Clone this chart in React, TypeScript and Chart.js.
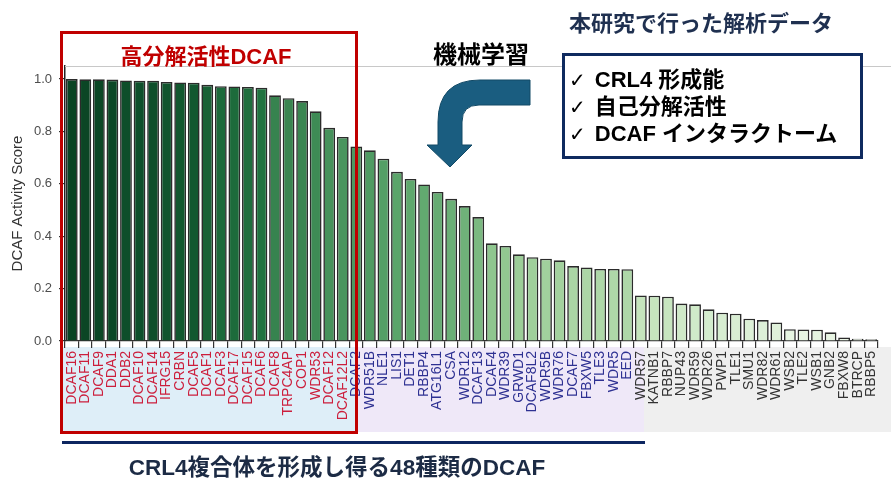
import React, { useEffect, useRef } from "react";
import { Chart, registerables } from "chart.js";

Chart.register(...registerables);

const categories = [
  "DCAF16", "DCAF11", "DCAF9", "DDA1", "DDB2", "DCAF10", "DCAF14", "IFRG15", "CRBN", "DCAF5",
  "DCAF1", "DCAF3", "DCAF17", "DCAF15", "DCAF6", "DCAF8", "TRPC4AP", "COP1", "WDR53", "DCAF12",
  "DCAF12L2",
  "DCAF2", "WDR51B", "NLE1", "LIS1", "DET1", "RBBP4", "ATG16L1", "CSA", "WDR12", "DCAF13",
  "DCAF4", "WDR39", "GRWD1", "DCAF8L2", "WDR5B", "WDR76", "DCAF7", "FBXW5", "TLE3", "WDR5",
  "EED",
  "WDR57", "KATNB1", "RBBP7", "NUP43", "WDR59", "WDR26", "PWP1", "TLE1", "SMU1", "WDR82",
  "WDR61", "WSB2", "TLE2", "WSB1", "GNB2", "FBXW8", "BTRCP", "RBBP5",
];

const scores = [
  1.0, 0.999, 0.999, 0.998, 0.995, 0.994, 0.994, 0.989, 0.987, 0.986,
  0.978, 0.973, 0.972, 0.97, 0.967, 0.938, 0.927, 0.916, 0.877, 0.814,
  0.779,
  0.743, 0.728, 0.696, 0.646, 0.619, 0.598, 0.569, 0.543, 0.515, 0.473,
  0.373, 0.363, 0.331, 0.32, 0.314, 0.308, 0.286, 0.281, 0.275, 0.275,
  0.274,
  0.174, 0.173, 0.169, 0.143, 0.14, 0.121, 0.108, 0.104, 0.085, 0.08,
  0.071, 0.045, 0.044, 0.043, 0.033, 0.013, 0.009, 0.007,
];

// group of each label: 0 = high self-degradation (red), 1 = blue, 2 = gray
const labelGroups = [
  0, 0, 0, 0, 0, 0, 0, 0, 0, 0, 0, 0, 0, 0, 0, 0, 0, 0, 0, 0, 0,
  1, 1, 1, 1, 1, 1, 1, 1, 1, 1, 1, 1, 1, 1, 1, 1, 1, 1, 1, 1, 1,
  2, 2, 2, 2, 2, 2, 2, 2, 2, 2, 2, 2, 2, 2, 2, 2, 2, 2,
];

const yTickValues = [0, 0.2, 0.4, 0.6, 0.8, 1.0];

const groupColors = ["#cc1e3c", "#2e3192", "#333333"];

const colorStops: [number, string][] = [
  [0.0, "#eef8ea"],
  [0.045, "#e6f4e1"],
  [0.09, "#dbefd5"],
  [0.145, "#cfe9c8"],
  [0.175, "#c5e4bd"],
  [0.275, "#aed7a8"],
  [0.32, "#9fcf9b"],
  [0.37, "#90c68f"],
  [0.47, "#7cba82"],
  [0.52, "#6db178"],
  [0.65, "#5aa56a"],
  [0.75, "#4d9861"],
  [0.88, "#3e8b55"],
  [0.94, "#37834f"],
  [0.965, "#237642"],
  [0.98, "#165f34"],
  [0.995, "#0d4e2a"],
  [1.0, "#0a4424"],
];

function hexToRgb(h: string) {
  const n = parseInt(h.slice(1), 16);
  return [(n >> 16) & 255, (n >> 8) & 255, n & 255];
}

function colorFor(v: number) {
  for (let i = 0; i < colorStops.length - 1; i++) {
    const [a, ca] = colorStops[i];
    const [b, cb] = colorStops[i + 1];
    if (v >= a && v <= b) {
      const t = b === a ? 0 : (v - a) / (b - a);
      const A = hexToRgb(ca);
      const B = hexToRgb(cb);
      const c = A.map((x, k) => Math.round(x + (B[k] - x) * t));
      return `rgb(${c[0]},${c[1]},${c[2]})`;
    }
  }
  return colorStops[colorStops.length - 1][1];
}

const W = 891;
const H = 483;
const LATIN = '"Liberation Sans", Arial, sans-serif';
const JP = '"Liberation Sans", "Noto Sans CJK JP", sans-serif';

const topLinePlugin = {
  id: "topLine",
  beforeDatasetsDraw(chart: any) {
    const { ctx, chartArea } = chart;
    ctx.save();
    ctx.strokeStyle = "#c8c8c8";
    ctx.lineWidth = 1;
    ctx.beginPath();
    ctx.moveTo(chartArea.left, chartArea.top + 0.5);
    ctx.lineTo(chart.width, chartArea.top + 0.5);
    ctx.stroke();
    ctx.restore();
  },
};

export default function App() {
  const ref = useRef<HTMLCanvasElement>(null);

  useEffect(() => {
    const chart = new Chart(ref.current as HTMLCanvasElement, {
      type: "bar",
      data: {
        labels: categories,
        datasets: [
          {
            data: scores,
            backgroundColor: scores.map(colorFor),
            borderColor: "#2b2b2b",
            borderWidth: 1.6,
            barPercentage: 0.87,
            categoryPercentage: 1,
          },
        ],
      },
      options: {
        animation: false,
        responsive: false,
        layout: { padding: { top: 66, left: 0, right: 0, bottom: 0 } },
        plugins: {
          legend: { display: false },
          tooltip: { enabled: false },
        },
        scales: {
          x: {
            grid: { drawOnChartArea: false, tickLength: 7, color: "#333", lineWidth: 1.2 },
            border: { display: true, color: "#333", width: 1.2 },
            ticks: {
              autoSkip: false,
              maxRotation: 90,
              minRotation: 90,
              padding: 3,
              font: { family: LATIN, size: 14 },
              color: (ctx: any) => groupColors[labelGroups[ctx.index] ?? 2],
            },
            afterFit: (s: any) => {
              s.height = H - 341;
            },
          },
          y: {
            min: 0,
            max: 1.05,
            afterBuildTicks: (s: any) => {
              s.ticks = yTickValues.map((v) => ({ value: v }));
            },
            ticks: {
              callback: (v: any) => Number(v).toFixed(1),
              font: { family: LATIN, size: 13 },
              color: "#4d4d4d",
              padding: 7,
            },
            grid: { drawOnChartArea: false, tickLength: 6, color: "#333", lineWidth: 1.2 },
            border: { display: true, color: "#222", width: 1.5 },
            title: {
              display: true,
              text: "DCAF Activity Score",
              font: { family: LATIN, size: 15 },
              color: "#333",
              padding: { top: 9, bottom: 0 },
            },
            afterFit: (s: any) => {
              s.width = 65;
            },
          },
        },
      } as any,
      plugins: [topLinePlugin],
    });
    return () => chart.destroy();
  }, []);

  const abs = (o: React.CSSProperties): React.CSSProperties => ({ position: "absolute", ...o });

  return (
    <div style={{ position: "absolute", left: 0, top: 0, width: W, height: H, background: "#fff", overflow: "hidden" }}>
      {/* label shading */}
      <div style={abs({ left: 62, top: 347, width: 294, height: 86, background: "#deeef8", zIndex: 0 })} />
      <div style={abs({ left: 356, top: 347, width: 288, height: 85, background: "#efe8f8", zIndex: 0 })} />
      <div style={abs({ left: 644, top: 347, width: 247, height: 85, background: "#efefef", zIndex: 0 })} />

      <canvas ref={ref} width={W} height={H} style={abs({ left: 0, top: 0, width: W, height: H, zIndex: 1 })} />

      {/* red box */}
      <div style={abs({ left: 60, top: 31, width: 292, height: 397, border: "3px solid #c00000", zIndex: 2 })} />
      <div
        style={abs({
          left: 206, top: 57, transform: "translate(-50%,-50%)", zIndex: 3,
          font: `bold 22px ${JP}`, color: "#c00000", whiteSpace: "nowrap", lineHeight: 1,
        })}
      >
        高分解活性DCAF
      </div>

      {/* machine learning */}
      <div
        style={abs({
          left: 481, top: 55, transform: "translate(-50%,-50%)", zIndex: 3,
          font: `bold 24px ${JP}`, color: "#000", whiteSpace: "nowrap", lineHeight: 1,
        })}
      >
        機械学習
      </div>
      <svg width={W} height={H} style={abs({ left: 0, top: 0, zIndex: 3, pointerEvents: "none" })}>
        <path
          d="M 530 80 L 480 80 Q 438 80 438 122 L 438 145 L 427 145 L 450 167 L 472 145 L 462 145 L 462 122 Q 462 105 479 105 L 530 105 Z"
          fill="#1a5d80"
          stroke="#134a66"
          strokeWidth={1}
        />
      </svg>

      {/* analysis data */}
      <div
        style={abs({
          left: 701, top: 24, transform: "translate(-50%,-50%)", zIndex: 3,
          font: `bold 22px ${JP}`, color: "#1f3050", whiteSpace: "nowrap", lineHeight: 1,
        })}
      >
        本研究で行った解析データ
      </div>
      <div style={abs({ left: 562, top: 53, width: 295, height: 100, border: "3px solid #0f2a5f", background: "#fff", zIndex: 2 })} />
      {["CRL4 形成能", "自己分解活性", "DCAF インタラクトーム"].map((t, i) => (
        <div
          key={i}
          style={abs({
            left: 569, top: 80 + i * 27, transform: "translateY(-50%)", zIndex: 3,
            font: `bold 22px ${JP}`, color: "#000", whiteSpace: "nowrap", lineHeight: 1,
          })}
        >
          <span style={{ fontFamily: '"DejaVu Sans", sans-serif', fontWeight: "normal", fontSize: 20, marginRight: 9 }}>✓</span>
          {t}
        </div>
      ))}

      {/* bottom */}
      <div style={abs({ left: 62, top: 441, width: 583, height: 3, background: "#0d2660", zIndex: 2 })} />
      <div
        style={abs({
          left: 337, top: 468, transform: "translate(-50%,-50%)", zIndex: 3,
          font: `bold 22.5px ${JP}`, color: "#1c2b45", whiteSpace: "nowrap", lineHeight: 1,
        })}
      >
        CRL4複合体を形成し得る48種類のDCAF
      </div>
    </div>
  );
}
